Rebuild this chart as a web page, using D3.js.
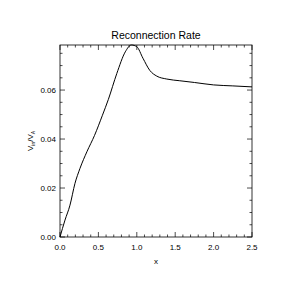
<!DOCTYPE html>
<html>
<head>
<meta charset="utf-8">
<script src="https://cdn.jsdelivr.net/npm/d3@7"></script>
<style>
  body { margin: 0; background: #fff; }
  text { font-family: "Liberation Sans", Arial, sans-serif; fill: #000; }
</style>
</head>
<body>
<script>
// reconnection rate curve
const xs = [0, 0.065, 0.13, 0.195, 0.26, 0.35, 0.45, 0.55, 0.63, 0.74, 0.85, 0.93, 1.0, 1.08, 1.17, 1.26, 1.39, 1.56, 1.75, 2.0, 2.25, 2.5];
const rate = [0, 0.0069, 0.013, 0.0219, 0.028, 0.0348, 0.0415, 0.0495, 0.0562, 0.0668, 0.0756, 0.0784, 0.0777, 0.073, 0.068, 0.0657, 0.0645, 0.0638, 0.0631, 0.0621, 0.0617, 0.0613];
const xTicks = [0, 0.5, 1.0, 1.5, 2.0, 2.5];
const yTicks = [0, 0.02, 0.04, 0.06];

const W = 296, H = 296;
const pL = 60, pR = 252, pT = 45, pB = 237;

const svg = d3.select('body').append('svg')
  .attr('width', W).attr('height', H);

const x = d3.scaleLinear().domain([0, 2.5]).range([pL, pR]);
const y = d3.scaleLinear().domain([0, 0.0784]).range([pB, pT]);

// minor ticks
const xMinor = d3.range(0, 2.501, 0.1);
const yMinor = d3.range(0, 0.0784, 0.005);

const g = svg.append('g');

// box
g.append('rect')
  .attr('x', pL).attr('y', pT)
  .attr('width', pR - pL).attr('height', pB - pT)
  .attr('fill', 'none').attr('stroke', '#000').attr('stroke-width', 0.8);

function tickLen(v, majors) {
  return majors.some(m => Math.abs(m - v) < 1e-6) ? 5 : 2.5;
}

// x ticks, bottom and top, pointing inward
xMinor.forEach(v => {
  const L = tickLen(v, xTicks);
  g.append('line').attr('x1', x(v)).attr('x2', x(v)).attr('y1', pB).attr('y2', pB - L)
    .attr('stroke', '#000').attr('stroke-width', 0.7);
  g.append('line').attr('x1', x(v)).attr('x2', x(v)).attr('y1', pT).attr('y2', pT + L)
    .attr('stroke', '#000').attr('stroke-width', 0.7);
});
yMinor.forEach(v => {
  const L = tickLen(v, yTicks);
  g.append('line').attr('y1', y(v)).attr('y2', y(v)).attr('x1', pL).attr('x2', pL + L)
    .attr('stroke', '#000').attr('stroke-width', 0.7);
  g.append('line').attr('y1', y(v)).attr('y2', y(v)).attr('x1', pR).attr('x2', pR - L)
    .attr('stroke', '#000').attr('stroke-width', 0.7);
});

// tick labels
g.selectAll('.xl').data(xTicks).enter().append('text')
  .attr('x', d => x(d)).attr('y', pB + 13)
  .attr('text-anchor', 'middle').attr('font-size', 8)
  .text(d3.format('.1f'));
g.selectAll('.yl').data(yTicks).enter().append('text')
  .attr('x', pL - 4).attr('y', d => y(d) + 3)
  .attr('text-anchor', 'end').attr('font-size', 8)
  .text(d3.format('.2f'));

// curve
const line = d3.line()
  .x((d, i) => x(xs[i]))
  .y(d => y(d))
  .curve(d3.curveMonotoneX);
svg.append('path').datum(rate)
  .attr('d', line)
  .attr('fill', 'none').attr('stroke', '#000').attr('stroke-width', 1);

// titles
svg.append('text').attr('x', (pL + pR) / 2).attr('y', 39)
  .attr('text-anchor', 'middle').attr('font-size', 10.5)
  .text('Reconnection Rate');
svg.append('text').attr('x', (pL + pR) / 2).attr('y', 264)
  .attr('text-anchor', 'middle').attr('font-size', 8)
  .text('x');

const yl = svg.append('text')
  .attr('transform', 'translate(33,141) rotate(-90)')
  .attr('text-anchor', 'middle').attr('font-size', 8);
yl.append('tspan').text('V');
yl.append('tspan').attr('font-size', 5).attr('dy', 2).text('in');
yl.append('tspan').attr('dy', -2).text('/V');
yl.append('tspan').attr('font-size', 5).attr('dy', 2).text('A');
</script>
</body>
</html>
